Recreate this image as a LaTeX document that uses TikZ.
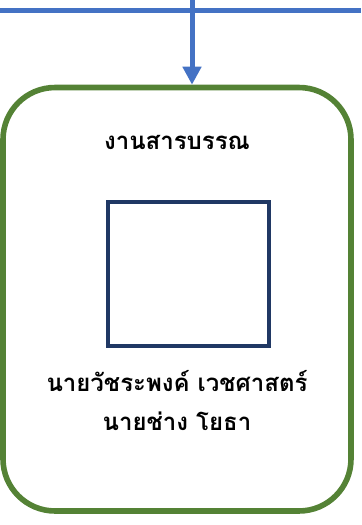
\documentclass[tikz,border=0pt]{standalone}
\usepackage{fontspec}
\newfontfamily\thaifont[Script=Thai]{Loma}
\usetikzlibrary{arrows.meta}

\tikzset{every picture/.style={line width=0.75pt}}
\definecolor{linkblue}{RGB}{68,114,196}
\definecolor{unitgreen}{RGB}{84,130,53}
\definecolor{photonavy}{RGB}{32,56,100}
\tikzset{
  unitbox/.style={draw=unitgreen,line width=4.2pt,rounded corners=39pt,minimum width=261pt,minimum height=317.6pt,inner sep=0pt},
  photobox/.style={draw=photonavy,line width=3pt,minimum width=121.1pt,minimum height=108pt,inner sep=0pt},
  thaitext/.style={font=\thaifont\bfseries\fontsize{18}{21}\selectfont,inner sep=0.75pt,anchor=center}
}

\begin{document}
\begin{tikzpicture}[x=0.75pt,y=0.75pt,yscale=-1,xscale=1]
\useasboundingbox (0,0) rectangle (361,525);

%Shape: Rounded Rectangle
\node[unitbox] (unit) at (177,299.25) {};
%Shape: Rectangle
\node[photobox] (photo) at (188.75,274) {};

% Text Node
\node[thaitext] (title) at (177,142) {งานสารบรรณ};
% Text Node
\node[thaitext] (name) at (177,381) {นายวัชระพงค์ เวชศาสตร์};
% Text Node
\node[thaitext] (post) at (177,421) {นายช่าง โยธา};

%Straight Lines
\coordinate (busL) at (0,10);
\coordinate (busR) at (361,10);
\coordinate (busT) at (192,0);
\draw [draw=linkblue,line width=3.75pt] (busL) -- (busR);
\draw [draw=linkblue,line width=3.75pt,-{Triangle[width=13.5pt,length=13.5pt]}] (busT) -- (busT |- unit.north);
\end{tikzpicture}
\end{document}
